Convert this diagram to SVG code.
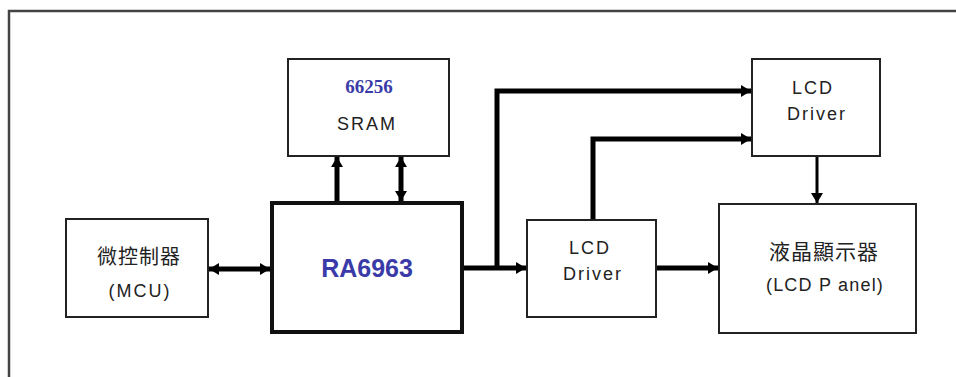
<svg xmlns="http://www.w3.org/2000/svg" width="956" height="377" viewBox="0 0 956 377">
<style>
.box{fill:#fff;stroke:#222;stroke-width:2}
.thick{fill:#fff;stroke:#111;stroke-width:4}
.t{font-family:"Liberation Sans",Arial,"Noto Sans CJK TC",sans-serif;fill:#222;text-anchor:middle;font-size:18px;letter-spacing:2px}
.cjk{font-size:20px;letter-spacing:1px}
.blue{fill:#3a3aa8;font-weight:bold}
.w{fill:none;stroke:#000;stroke-width:5}
.n{fill:none;stroke:#000;stroke-width:3}
</style>
<defs>
<marker id="ah" markerUnits="userSpaceOnUse" markerWidth="12" markerHeight="14" refX="10" refY="7" orient="auto-start-reverse">
<path d="M0,1 L10,7 L0,13 Z" fill="#000"/>
</marker>
</defs>
<rect x="0" y="0" width="956" height="377" fill="#fff"/>
<path d="M9,377 V11 H956" fill="none" stroke="#444" stroke-width="2.5"/>
<g id="connectors">
<path class="w" d="M337,202 V157" marker-end="url(#ah)"/>
<path class="w" d="M401,201 V157" marker-start="url(#ah)" marker-end="url(#ah)"/>
<path class="w" d="M209,269 H270" marker-start="url(#ah)" marker-end="url(#ah)"/>
<path class="w" d="M463,268 H526" marker-end="url(#ah)"/>
<path class="w" d="M497,268 V91 H751" marker-end="url(#ah)"/>
<path class="w" d="M593,220 V139 H751" marker-end="url(#ah)"/>
<path class="w" d="M656,268 H718" marker-end="url(#ah)"/>
<path class="n" d="M817,156 V203" marker-end="url(#ah)"/>
</g>
<g id="sram">
<rect class="box" x="288" y="59" width="161" height="97"/>
<text class="t blue" x="369" y="93" style="font-family:'Liberation Serif','Times New Roman',serif;font-size:19px;letter-spacing:0">66256</text>
<text class="t" x="367" y="130">SRAM</text>
</g>
<g id="ra6963">
<rect class="thick" x="272" y="203" width="190" height="129"/>
<text class="t blue" x="367" y="277" style="font-size:25px;letter-spacing:0">RA6963</text>
</g>
<g id="mcu">
<rect class="box" x="66" y="219" width="142" height="98"/>
<text class="t cjk" x="139" y="264">微控制器</text>
<text class="t" x="140" y="297">(MCU)</text>
</g>
<g id="driver1">
<rect class="box" x="527" y="220" width="129" height="97"/>
<text class="t" x="590" y="254">LCD</text>
<text class="t" x="593" y="280">Driver</text>
</g>
<g id="driver2">
<rect class="box" x="752" y="59" width="128" height="97"/>
<text class="t" x="813" y="94">LCD</text>
<text class="t" x="817" y="120">Driver</text>
</g>
<g id="panel">
<rect class="box" x="719" y="204" width="197" height="129"/>
<text class="t cjk" x="824" y="259" style="font-size:21px">液晶顯示器</text>
<text class="t" x="825" y="291" style="letter-spacing:1.2px">(LCD P anel)</text>
</g>
</svg>
